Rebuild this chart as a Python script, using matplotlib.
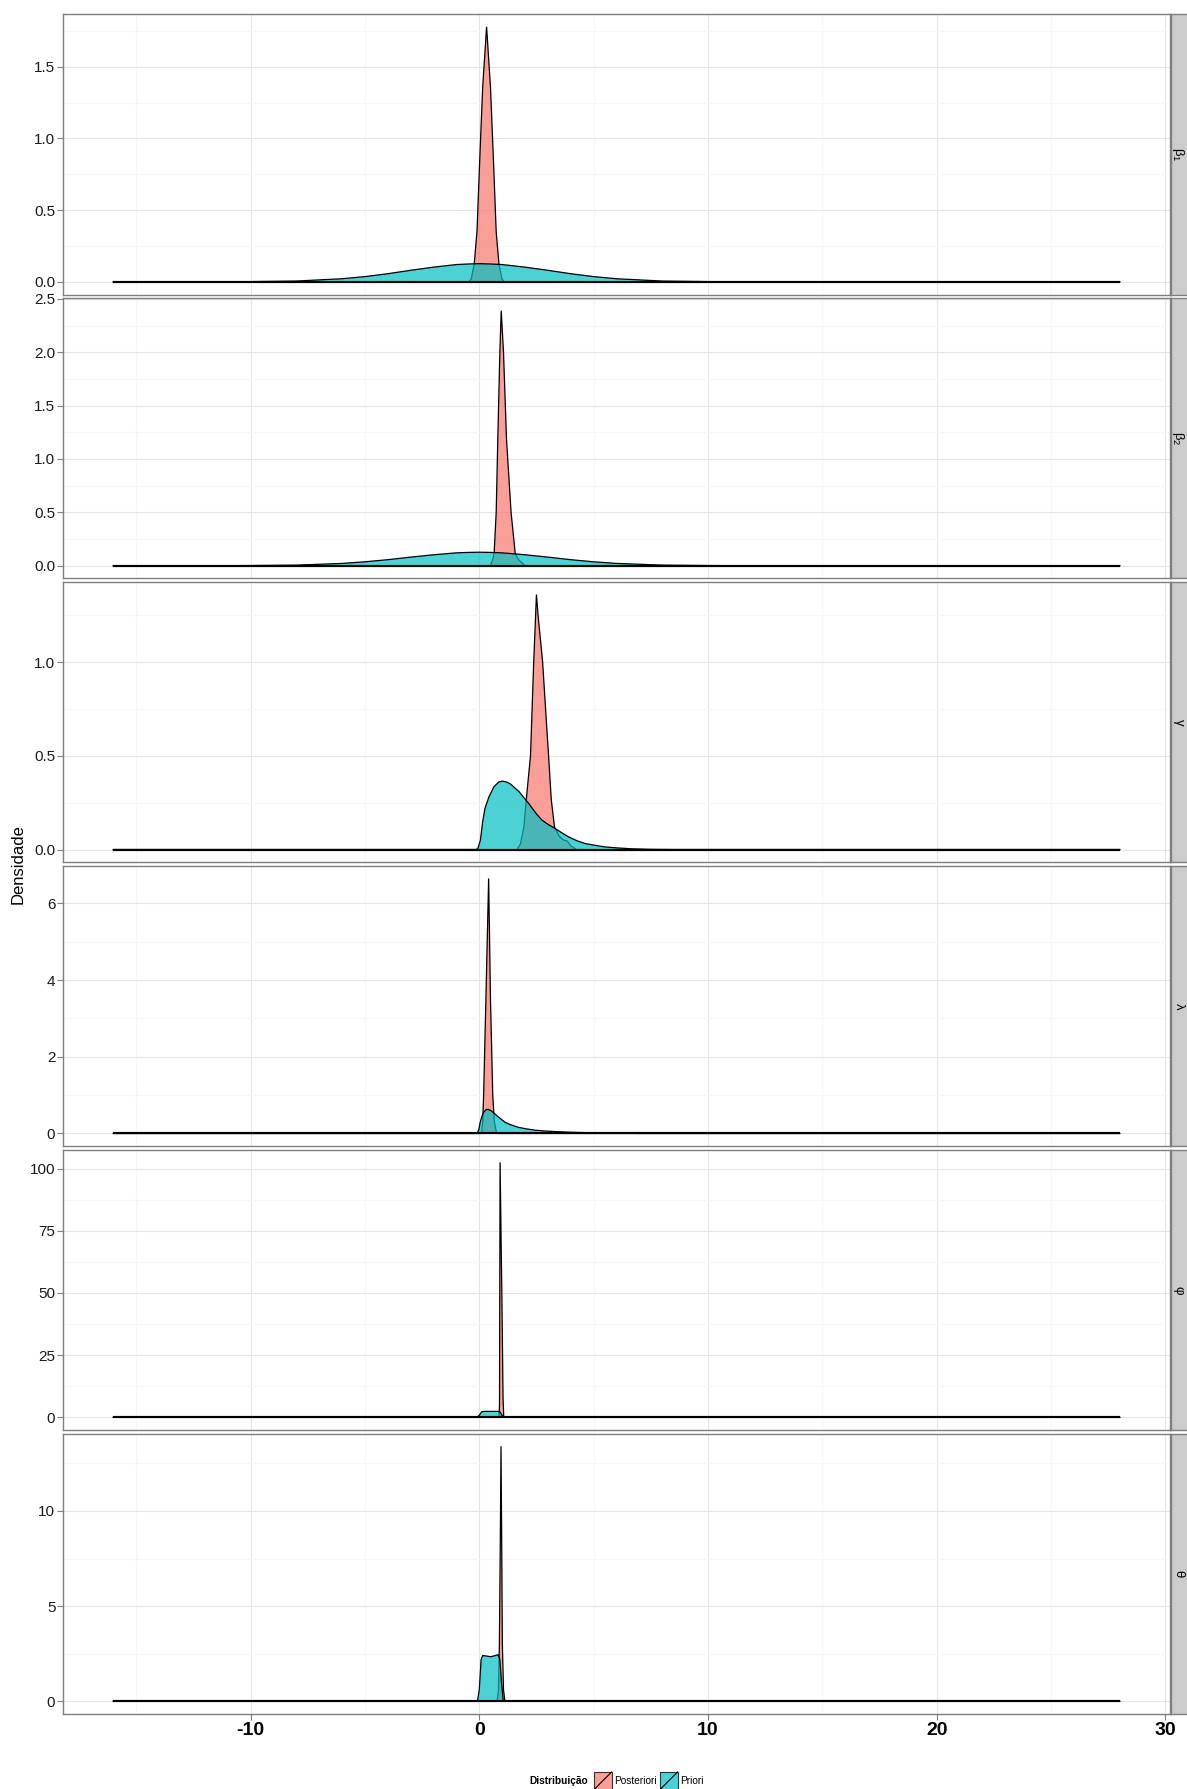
import matplotlib
matplotlib.use("Agg")
import matplotlib.pyplot as plt
from matplotlib.patches import Rectangle
from matplotlib.lines import Line2D
from matplotlib.colors import to_rgba

plt.rcParams["font.family"] = ["Liberation Sans", "DejaVu Sans"]
plt.rcParams["mathtext.fontset"] = "custom"
plt.rcParams["mathtext.rm"] = "Liberation Sans"
plt.rcParams["mathtext.it"] = "Liberation Sans:italic"

# ---------------------------------------------------------------- data
# range over which every density estimate was evaluated
support = [-16.0, 28.0]

param_keys = ["beta1", "beta2", "gamma", "lambda", "phi", "theta"]
param_labels = [r"$\mathrm{\beta}_1$", r"$\mathrm{\beta}_2$", "γ", "λ", "φ", "θ"]
group_names = ["Posteriori", "Priori"]

# beta1
beta1_post_x = [-0.45, -0.35, -0.22, -0.10, 0.03, 0.15, 0.32, 0.49, 0.61, 0.74, 0.86, 0.99, 1.09]
beta1_post_y = [0.0, 0.02, 0.125, 0.35, 0.89, 1.36, 1.78, 1.36, 0.89, 0.35, 0.125, 0.02, 0.0]
beta1_prior_x = [-11.0, -10.0, -8.0, -6.0, -5.0, -4.0, -3.0, -2.0, -1.0, -0.5, 0.0,
                 0.5, 1.0, 2.0, 3.0, 4.0, 5.0, 6.0, 8.0, 10.0, 11.0]
beta1_prior_y = [0.0, 0.001, 0.005, 0.021, 0.036, 0.056, 0.080, 0.102, 0.120, 0.124, 0.126,
                 0.124, 0.120, 0.102, 0.080, 0.056, 0.036, 0.021, 0.005, 0.001, 0.0]

# beta2
beta2_post_x = [0.48, 0.58, 0.65, 0.74, 0.81, 0.90, 0.96, 1.06, 1.19, 1.39, 1.57, 1.70, 1.85, 2.00]
beta2_post_y = [0.0, 0.05, 0.12, 0.50, 1.19, 2.00, 2.39, 2.00, 1.19, 0.50, 0.12, 0.06, 0.03, 0.0]
beta2_prior_x = [-11.0, -10.0, -8.0, -6.0, -5.0, -4.0, -3.0, -2.0, -1.0, -0.5, 0.0,
                 0.5, 1.0, 2.0, 3.0, 4.0, 5.0, 6.0, 8.0, 10.0, 11.0]
beta2_prior_y = [0.0, 0.001, 0.005, 0.021, 0.036, 0.056, 0.080, 0.102, 0.120, 0.124, 0.126,
                 0.124, 0.120, 0.102, 0.080, 0.056, 0.036, 0.021, 0.005, 0.001, 0.0]

# gamma
gamma_post_x = [1.65, 1.80, 1.95, 2.05, 2.24, 2.38, 2.50, 2.57, 2.77, 3.03, 3.15, 3.29,
                3.50, 3.70, 3.85, 4.00, 4.25]
gamma_post_y = [0.0, 0.03, 0.12, 0.26, 0.50, 1.00, 1.36, 1.25, 1.00, 0.50, 0.264, 0.12,
                0.07, 0.05, 0.045, 0.02, 0.0]
gamma_prior_x = [-0.12, -0.05, 0.05, 0.15, 0.25, 0.42, 0.64, 0.85, 1.00, 1.20, 1.36, 1.73,
                 2.16, 2.50, 2.74, 3.00, 3.32, 3.60, 3.90, 4.25, 4.63, 5.00, 5.50, 6.00,
                 6.66, 7.50, 8.50]
gamma_prior_y = [0.0, 0.01, 0.05, 0.15, 0.22, 0.28, 0.335, 0.36, 0.365, 0.36, 0.35, 0.31,
                 0.246, 0.19, 0.157, 0.135, 0.112, 0.09, 0.068, 0.048, 0.032, 0.024, 0.014,
                 0.009, 0.004, 0.001, 0.0]

# lambda
lambda_post_x = [0.10, 0.15, 0.19, 0.29, 0.41, 0.49, 0.59, 0.66, 0.76]
lambda_post_y = [0.0, 0.3, 1.0, 3.5, 6.65, 3.5, 1.0, 0.3, 0.0]
lambda_prior_x = [-0.10, -0.02, 0.04, 0.12, 0.19, 0.30, 0.38, 0.50, 0.70, 0.90, 1.13, 1.40,
                  1.71, 2.05, 2.43, 2.85, 3.30, 3.80, 4.30, 4.90, 5.50, 6.20, 7.00]
lambda_prior_y = [0.0, 0.10, 0.29, 0.45, 0.55, 0.62, 0.63, 0.60, 0.50, 0.40, 0.29, 0.22,
                  0.16, 0.12, 0.087, 0.065, 0.05, 0.037, 0.026, 0.017, 0.01, 0.004, 0.0]

# phi
phi_post_x = [0.86, 0.885, 0.91, 0.985, 1.04, 1.07]
phi_post_y = [0.0, 5.0, 102.5, 51.0, 8.0, 0.0]
phi_prior_x = [-0.10, 0.0, 0.10, 0.20, 0.50, 0.80, 0.90, 1.00, 1.08]
phi_prior_y = [0.0, 0.8, 2.2, 2.4, 2.4, 2.4, 2.2, 0.8, 0.0]

# theta
theta_post_x = [0.78, 0.84, 0.88, 0.92, 0.95, 0.98, 1.01, 1.06, 1.12]
theta_post_y = [0.0, 0.6, 3.0, 8.5, 13.4, 8.5, 3.0, 0.6, 0.0]
theta_prior_x = [-0.08, 0.0, 0.08, 0.15, 0.30, 0.50, 0.70, 0.82, 0.90, 0.97, 1.05]
theta_prior_y = [0.0, 0.6, 2.2, 2.4, 2.38, 2.34, 2.40, 2.45, 2.2, 1.0, 0.0]

# axis ticks
x_ticks = [-10, 0, 10, 20, 30]
x_tick_labels = ["-10", "0", "10", "20", "30"]
x_minor_ticks = [-15, -5, 5, 15, 25]
y_ticks = {
    "beta1": [0.0, 0.5, 1.0, 1.5],
    "beta2": [0.0, 0.5, 1.0, 1.5, 2.0, 2.5],
    "gamma": [0.0, 0.5, 1.0],
    "lambda": [0, 2, 4, 6],
    "phi": [0, 25, 50, 75, 100],
    "theta": [0, 5, 10],
}
y_tick_labels = {
    "beta1": ["0.0", "0.5", "1.0", "1.5"],
    "beta2": ["0.0", "0.5", "1.0", "1.5", "2.0", "2.5"],
    "gamma": ["0.0", "0.5", "1.0"],
    "lambda": ["0", "2", "4", "6"],
    "phi": ["0", "25", "50", "75", "100"],
    "theta": ["0", "5", "10"],
}

curves = {
    "beta1": ((beta1_post_x, beta1_post_y), (beta1_prior_x, beta1_prior_y)),
    "beta2": ((beta2_post_x, beta2_post_y), (beta2_prior_x, beta2_prior_y)),
    "gamma": ((gamma_post_x, gamma_post_y), (gamma_prior_x, gamma_prior_y)),
    "lambda": ((lambda_post_x, lambda_post_y), (lambda_prior_x, lambda_prior_y)),
    "phi": ((phi_post_x, phi_post_y), (phi_prior_x, phi_prior_y)),
    "theta": ((theta_post_x, theta_post_y), (theta_prior_x, theta_prior_y)),
}

# ---------------------------------------------------------------- style
FILL_COLORS = ["#F8766D", "#00BFC4"]
FILL_ALPHA = 0.7
GRID_MAJOR = "#E5E5E5"
GRID_MINOR = "#F7F7F7"
BORDER = "#7F7F7F"
STRIP_BG = "#CCCCCC"

W, H, DPI = 1187, 1789, 100
fig = plt.figure(figsize=(W / DPI, H / DPI), dpi=DPI)
fig.patch.set_facecolor("white")


def fx(px):
    return px / W


def fy(py):
    return 1 - py / H


PANEL_L, PANEL_R = 63, 1170
PANEL_TOP, PANEL_BOT = 14, 1714
GAP = 3.4
N = len(param_keys)
PH = (PANEL_BOT - PANEL_TOP - GAP * (N - 1)) / N
STRIP_W = 20

xspan = support[1] - support[0]
xlim = (support[0] - 0.05 * xspan, support[1] + 0.05 * xspan)

for i, (key, label) in enumerate(zip(param_keys, param_labels)):
    top = PANEL_TOP + i * (PH + GAP)
    ax = fig.add_axes([fx(PANEL_L), fy(top + PH), (PANEL_R - PANEL_L) / W, PH / H])
    ax.set_facecolor("white")
    ax.set_axisbelow(True)

    ymax = 0.0
    z = 2
    for (xs, ys), color in zip(curves[key], FILL_COLORS):
        x = [support[0]] + list(xs) + [support[1]]
        y = [0.0] + list(ys) + [0.0]
        ymax = max(ymax, max(y))
        ax.fill_between(x, y, 0, facecolor=color, alpha=FILL_ALPHA, lw=0, zorder=z)
        ax.plot(x, y, color="black", lw=0.9, zorder=z + 1, solid_joinstyle="miter")
        ax.plot([x[0], x[-1]], [0, 0], color="black", lw=1.5, zorder=z + 1,
                solid_capstyle="butt")
        z += 2

    ylim = (-0.05 * ymax, 1.05 * ymax)

    yt = y_ticks[key]
    ax.set_yticks(yt)
    ax.set_yticklabels(y_tick_labels[key])
    step = yt[1] - yt[0]
    minor = [t + step / 2 for t in [yt[0] - step] + yt]
    ax.set_yticks([m for m in minor if ylim[0] <= m <= ylim[1]], minor=True)
    ax.set_xticks(x_ticks)
    ax.set_xticks(x_minor_ticks, minor=True)

    # limits last, so the tick setters cannot widen them
    ax.set_xlim(*xlim)
    ax.set_ylim(*ylim)

    ax.grid(True, which="major", color=GRID_MAJOR, lw=0.8)
    ax.grid(True, which="minor", color=GRID_MINOR, lw=0.8)

    for s in ax.spines.values():
        s.set_color(BORDER)
        s.set_linewidth(1.0)

    ax.tick_params(which="minor", length=0)
    ax.tick_params(axis="y", which="major", length=4, width=0.8, color=BORDER,
                   labelsize=11, pad=1.5, labelcolor="#1A1A1A")
    last = i == N - 1
    ax.tick_params(axis="x", which="major", length=4 if last else 0, width=0.8,
                   color=BORDER, labelbottom=last, labelsize=14, pad=2)
    if last:
        ax.set_xticklabels(x_tick_labels, fontweight="bold")

    # facet strip on the right
    sax = fig.add_axes([fx(PANEL_R + 1), fy(top + PH), STRIP_W / W, PH / H])
    sax.set_facecolor(STRIP_BG)
    sax.set_xticks([])
    sax.set_yticks([])
    for s in sax.spines.values():
        s.set_color(BORDER)
        s.set_linewidth(1.0)
    sax.text(fx(1178.5), 0.5, label, rotation=-90, ha="center", va="center",
             fontsize=9.5, transform=matplotlib.transforms.blended_transform_factory(
                 fig.transFigure, sax.transAxes))

# y axis title
fig.text(fx(18), fy((PANEL_TOP + PANEL_BOT) / 2), "Densidade", rotation=90,
         ha="center", va="center", fontsize=12)

# legend at the bottom
LEG_Y = 1781
KEY = 17.6
fig.text(fx(588.5), fy(LEG_Y), "Distribuição", ha="right", va="center",
         fontsize=7.3, fontweight="bold")
key_left = [594, 660]
text_left = [614, 680.5]
for kl, tl, name, color in zip(key_left, text_left, group_names, FILL_COLORS):
    fig.patches.append(Rectangle((fx(kl), fy(1772 + KEY)), KEY / W, KEY / H,
                                 transform=fig.transFigure,
                                 facecolor=to_rgba(color, FILL_ALPHA),
                                 edgecolor="#333333", lw=0.8))
    fig.lines.append(Line2D([fx(kl), fx(kl + KEY)], [fy(1772 + KEY), fy(1772)],
                            transform=fig.transFigure, color="black", lw=0.8))
    fig.text(fx(tl), fy(LEG_Y), name, ha="left", va="center", fontsize=7.3)

fig.savefig("out.png", dpi=DPI, facecolor="white")
